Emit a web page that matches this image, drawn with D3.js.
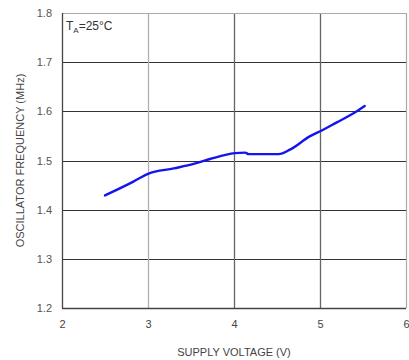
<!DOCTYPE html>
<html>
<head>
<meta charset="utf-8">
<script src="https://cdn.jsdelivr.net/npm/d3@7"></script>
<style>
  body { margin: 0; background: #fff; }
  svg { display: block; font-family: "Liberation Sans", Arial, sans-serif; }
</style>
</head>
<body>
<script>
const voltage = [2.5, 2.83, 3.0, 3.3, 3.53, 3.72, 4.01, 4.13, 4.17, 4.52, 4.65, 4.88, 5.02, 5.19, 5.39, 5.52];
const frequency = [1.429, 1.457, 1.473, 1.484, 1.493, 1.503, 1.515, 1.516, 1.513, 1.513, 1.522, 1.549, 1.561, 1.577, 1.596, 1.611];
const xTicks = [2, 3, 4, 5, 6];
const yTicks = [1.2, 1.3, 1.4, 1.5, 1.6, 1.7, 1.8];

const WIDTH = 409, HEIGHT = 360;
const PLOT_L = 62, PLOT_R = 406, PLOT_T = 13, PLOT_B = 308;

const svg = d3.select("body").append("svg")
    .attr("width", WIDTH)
    .attr("height", HEIGHT);

const x = d3.scaleLinear().domain([2, 6]).range([PLOT_L, PLOT_R]);
const y = d3.scaleLinear().domain([1.2, 1.8]).range([PLOT_B, PLOT_T]);

// grid
svg.append("g").selectAll("line")
    .data(yTicks.slice(1, -1))
    .join("line")
    .attr("x1", PLOT_L).attr("x2", PLOT_R)
    .attr("y1", d => Math.round(y(d)) + 0.5).attr("y2", d => Math.round(y(d)) + 0.5)
    .attr("stroke", "#333").attr("stroke-width", 1.2);

svg.append("g").selectAll("line")
    .data(xTicks.slice(1, -1))
    .join("line")
    .attr("x1", d => Math.round(x(d)) + 0.5).attr("x2", d => Math.round(x(d)) + 0.5)
    .attr("y1", PLOT_T).attr("y2", PLOT_B)
    .attr("stroke", d => d === 3 ? "#b0b0b0" : "#666").attr("stroke-width", 1.3);

// frame: top/right light, left/bottom dark
svg.append("line").attr("x1", PLOT_L).attr("x2", PLOT_R).attr("y1", PLOT_T + 0.5).attr("y2", PLOT_T + 0.5)
    .attr("stroke", "#aaa").attr("stroke-width", 1.2);
svg.append("line").attr("x1", PLOT_R + 0.5).attr("x2", PLOT_R + 0.5).attr("y1", PLOT_T).attr("y2", PLOT_B)
    .attr("stroke", "#aaa").attr("stroke-width", 1.2);
svg.append("line").attr("x1", PLOT_L + 0.5).attr("x2", PLOT_L + 0.5).attr("y1", PLOT_T).attr("y2", PLOT_B)
    .attr("stroke", "#444").attr("stroke-width", 1.3);
svg.append("line").attr("x1", PLOT_L).attr("x2", PLOT_R).attr("y1", PLOT_B + 0.5).attr("y2", PLOT_B + 0.5)
    .attr("stroke", "#444").attr("stroke-width", 1.3);

// axes labels (no tick lines)
const yAxis = d3.axisLeft(y).tickValues(yTicks).tickFormat(d3.format(".1f")).tickSize(0).tickPadding(10);
svg.append("g")
    .attr("transform", `translate(${PLOT_L},0)`)
    .call(yAxis)
    .call(g => g.select(".domain").remove())
    .call(g => g.selectAll("text").attr("fill", "#555").attr("font-size", 11).attr("font-family", "Liberation Sans, Arial, sans-serif"));

const xAxis = d3.axisBottom(x).tickValues(xTicks).tickFormat(d3.format("d")).tickSize(0).tickPadding(12);
svg.append("g")
    .attr("transform", `translate(0,${PLOT_B})`)
    .call(xAxis)
    .call(g => g.select(".domain").remove())
    .call(g => g.selectAll("text").attr("fill", "#444").attr("font-size", 11).attr("font-family", "Liberation Sans, Arial, sans-serif"));

// titles
svg.append("text")
    .attr("x", (PLOT_L + PLOT_R) / 2)
    .attr("y", 356)
    .attr("text-anchor", "middle")
    .attr("font-size", 11)
    .attr("fill", "#444")
    .text("SUPPLY VOLTAGE (V)");

svg.append("text")
    .attr("transform", `translate(24,${(PLOT_T + PLOT_B) / 2}) rotate(-90)`)
    .attr("text-anchor", "middle")
    .attr("font-size", 11)
    .attr("fill", "#444")
    .text("OSCILLATOR FREQUENCY (MHz)");

const ann = svg.append("text")
    .attr("x", 66).attr("y", 30)
    .attr("font-size", 12)
    .attr("fill", "#333");
ann.append("tspan").text("T");
ann.append("tspan").attr("font-size", 8).attr("dy", 3).text("A");
ann.append("tspan").attr("dy", -3).text("=25°C");

// curve
const line = d3.line()
    .x((d, i) => x(voltage[i]))
    .y(d => y(d))
    .curve(d3.curveMonotoneX);

svg.append("path")
    .datum(frequency)
    .attr("d", line)
    .attr("fill", "none")
    .attr("stroke", "#1414ee")
    .attr("stroke-width", 2.4)
    .attr("stroke-linecap", "round");
</script>
</body>
</html>
